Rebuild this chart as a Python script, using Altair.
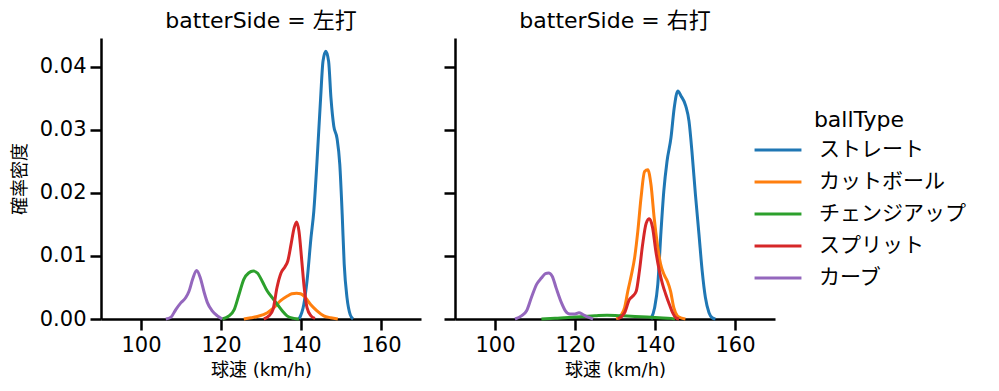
import altair as alt
import pandas as pd

ball_types = ["ストレート", "カットボール", "チェンジアップ", "スプリット", "カーブ"]
colors = ["#1f77b4", "#ff7f0e", "#2ca02c", "#d62728", "#9467bd"]
sides = ["左打", "右打"]

# 左打 curves (speed km/h, density)
L_straight_x = [139.5, 140.7, 141.5, 142.5, 143.2, 144.0, 144.9, 145.5, 146.2, 146.9, 147.5, 148.2, 149.0, 149.7, 150.3, 150.8, 151.5, 152.3, 153.0]
L_straight_y = [0.0, 0.0023, 0.006, 0.0129, 0.0171, 0.025, 0.035, 0.0409, 0.0425, 0.0409, 0.035, 0.0306, 0.0287, 0.0245, 0.0166, 0.0087, 0.0034, 0.0007, 0.0]
L_cut_x = [125.7, 127.5, 129.1, 131.6, 133.2, 134.9, 136.5, 137.7, 138.9, 139.9, 141.1, 142.4, 144.0, 145.7, 147.4, 149.2]
L_cut_y = [0.0, 0.0002, 0.0004, 0.001, 0.0018, 0.0029, 0.0036, 0.004, 0.0041, 0.004, 0.0034, 0.0023, 0.0013, 0.0005, 0.0002, 0.0]
L_change_x = [120.3, 122.0, 123.3, 124.5, 125.7, 126.9, 128.1, 129.1, 130.3, 131.6, 132.8, 134.1, 135.3, 136.5, 138.2, 139.5]
L_change_y = [0.0, 0.0005, 0.0015, 0.0039, 0.0063, 0.0073, 0.0076, 0.0073, 0.006, 0.0044, 0.0034, 0.0023, 0.0013, 0.0005, 0.0001, 0.0]
L_split_x = [130.7, 132.0, 133.0, 134.0, 135.0, 136.0, 136.7, 137.5, 138.3, 138.9, 139.5, 140.2, 140.8, 141.5, 142.5, 143.5]
L_split_y = [0.0, 0.0005, 0.0015, 0.005, 0.0073, 0.0083, 0.0092, 0.0118, 0.0145, 0.0154, 0.0139, 0.0092, 0.005, 0.0018, 0.0005, 0.0001]
L_curve_x = [106.2, 107.5, 108.7, 110.0, 111.2, 112.0, 112.9, 113.9, 114.8, 115.8, 116.6, 117.8, 119.1, 120.3]
L_curve_y = [0.0, 0.0003, 0.0015, 0.0026, 0.0034, 0.0044, 0.0063, 0.0077, 0.0066, 0.0042, 0.0026, 0.0013, 0.0005, 0.0]

# 右打 curves
R_straight_x = [139.0, 139.9, 140.7, 141.5, 142.2, 143.0, 144.0, 144.8, 145.7, 146.5, 147.7, 148.5, 149.3, 150.1, 151.0, 151.8, 152.6, 153.5, 154.3, 155.1]
R_straight_y = [0.0, 0.0018, 0.0055, 0.0139, 0.0203, 0.025, 0.0288, 0.0335, 0.0362, 0.0354, 0.0338, 0.0314, 0.0261, 0.0198, 0.0134, 0.0076, 0.0034, 0.001, 0.0002, 0.0]
R_cut_x = [130.3, 131.6, 132.4, 133.2, 134.1, 134.9, 135.7, 136.5, 137.4, 138.2, 139.0, 139.8, 140.6, 141.4, 142.3, 143.1, 143.9, 144.7, 145.6, 146.4, 147.6]
R_cut_y = [0.0, 0.0007, 0.0018, 0.0044, 0.007, 0.0097, 0.0139, 0.0192, 0.0234, 0.0237, 0.0213, 0.016, 0.0118, 0.0087, 0.007, 0.006, 0.0044, 0.0018, 0.0005, 0.0002, 0.0]
R_change_x = [111.6, 115.0, 120.0, 125.0, 128.0, 132.0, 135.0, 138.0, 141.0, 144.0, 145.0]
R_change_y = [0.0, 0.0001, 0.0003, 0.0005, 0.0006, 0.0005, 0.0004, 0.0003, 0.0002, 0.0001, 0.0]
R_split_x = [130.7, 132.4, 133.6, 134.4, 135.3, 136.1, 136.9, 137.8, 138.6, 139.4, 140.2, 141.1, 141.9, 142.7, 143.6, 144.4, 145.2, 146.0]
R_split_y = [0.0, 0.001, 0.0031, 0.0036, 0.0044, 0.0076, 0.0118, 0.0152, 0.0159, 0.0145, 0.0108, 0.0076, 0.0055, 0.0039, 0.0023, 0.001, 0.0002, 0.0]
R_curve_x = [105.0, 106.6, 107.9, 109.1, 110.4, 111.6, 112.6, 113.4, 114.3, 115.3, 116.6, 117.6, 118.7, 120.0, 121.0, 122.0, 123.3, 124.5]
R_curve_y = [0.0, 0.0005, 0.0013, 0.0034, 0.0055, 0.0065, 0.0072, 0.0073, 0.0068, 0.0049, 0.0026, 0.0013, 0.0008, 0.0008, 0.001, 0.0007, 0.0003, 0.0]

series = {
    "左打": [(L_straight_x, L_straight_y), (L_cut_x, L_cut_y), (L_change_x, L_change_y),
            (L_split_x, L_split_y), (L_curve_x, L_curve_y)],
    "右打": [(R_straight_x, R_straight_y), (R_cut_x, R_cut_y), (R_change_x, R_change_y),
            (R_split_x, R_split_y), (R_curve_x, R_curve_y)],
}

rows = []
for side in sides:
    for bt, (xs, ys) in zip(ball_types, series[side]):
        for i, (x, y) in enumerate(zip(xs, ys)):
            rows.append({"batterSide": side, "ballType": bt, "speed": x, "density": y, "order": i})
df = pd.DataFrame(rows)

FONT = "DejaVu Sans, Noto Sans CJK JP"

color = alt.Color(
    "ballType:N",
    scale=alt.Scale(domain=ball_types, range=colors),
    legend=alt.Legend(
        title="ballType", orient="none", legendX=652, legendY=72,
        symbolType="stroke", symbolStrokeWidth=3, symbolSize=2200,
        clipHeight=24, rowPadding=8,
        labelFontSize=21, titleFontSize=22, titleFontWeight="normal",
        titleAnchor="middle", labelOffset=16, titlePadding=6,
        labelFont=FONT, titleFont=FONT, labelColor="black", titleColor="black",
    ),
)


def panel(side, first):
    d = df[df["batterSide"] == side]
    yaxis = alt.Axis(
        values=[0, 0.01, 0.02, 0.03, 0.04], format=".2f", grid=False,
        labels=first, title="確率密度" if first else None,
        titleFontSize=18, titleFontWeight="normal", titlePadding=10,
    )
    xaxis = alt.Axis(values=[100, 120, 140, 160], grid=False, title="球速 (km/h)",
                     titleFontSize=18, titleFontWeight="normal", titlePadding=6)
    return alt.Chart(d).mark_line(strokeWidth=3, interpolate="monotone").encode(
        x=alt.X("speed:Q", scale=alt.Scale(domain=[90, 170], nice=False, zero=False), axis=xaxis),
        y=alt.Y("density:Q", scale=alt.Scale(domain=[0, 0.0446], nice=False), axis=yaxis),
        color=color,
        order="order:Q",
        detail="ballType:N",
    ).properties(
        width=320, height=281,
        title=alt.TitleParams(f"batterSide = {side}", fontSize=22, fontWeight="normal",
                              anchor="middle", font=FONT, color="black", offset=5),
    )


chart = alt.hconcat(panel("左打", True), panel("右打", False), spacing=21).properties(
    padding={"left": 3, "top": 2, "right": 5, "bottom": 5}
).configure(font=FONT).configure_view(stroke=None).configure_axis(
    domainColor="black", domainWidth=2.5, tickColor="black", tickWidth=2.5, tickSize=11,
    labelFontSize=21, labelFont=FONT, titleFont=FONT, labelColor="black", titleColor="black",
    labelPadding=4,
)

chart.save("out.html", embed_options={"renderer": "svg", "actions": False})
